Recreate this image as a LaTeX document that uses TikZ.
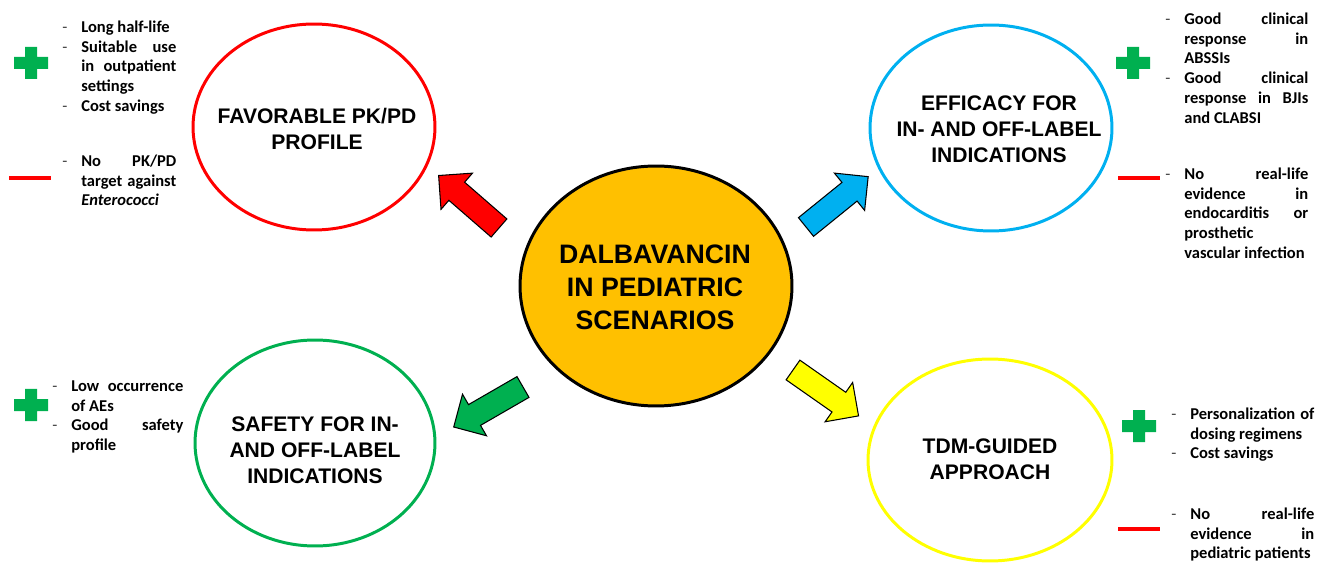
\documentclass[tikz,border=0pt]{standalone}
\usepackage{fontspec}
\setmainfont{Carlito}
\newfontfamily\headfont{Liberation Sans}
\usetikzlibrary{shapes.geometric}

\definecolor{redc}{HTML}{FF0000}
\definecolor{bluec}{HTML}{00B0F0}
\definecolor{greenc}{HTML}{00B050}
\definecolor{yellowc}{HTML}{FFFF00}
\definecolor{orangec}{HTML}{FFC000}

%block arrow: tail point, angle, fill colour
\newcommand{\blockarrow}[3]{%
  \draw[fill=#3, line width=0.6pt, line join=miter, shift={#1}, rotate=#2]
        (0,-12) -- (56,-12) -- (56,-24) -- (80,0) -- (56,24) -- (56,12)
        -- (0,12) -- cycle;}
%plus and minus marks
\newcommand{\plussign}[1]{%
  \fill[greenc, shift={#1}] (-17,-6) rectangle (17,6) (-6,-16) rectangle (6,16);}
\newcommand{\minussign}[1]{%
  \fill[redc, shift={#1}] (-21,-2) rectangle (21,2);}
%list entry with a dash in front
\newcommand{\entry}[1]{\par\hyphenpenalty10000\exhyphenpenalty10000
  \noindent\llap{\mdseries\color{black!75}-\hspace{0.28cm}}#1}

\begin{document}
\begin{tikzpicture}[x=0.02cm, y=-0.02cm,
    bubble/.style={draw, ellipse, line width=1.7pt, inner sep=0pt,
      minimum width=4.84cm, minimum height=4.12cm},
    bubbletext/.style={align=center, inner sep=0pt,
      font=\headfont\bfseries\fontsize{12}{14.7}\selectfont},
    sidelist/.style={anchor=north west, inner sep=0pt, align=justify,
      font=\bfseries\fontsize{9.4}{11.3}\selectfont}]
  \useasboundingbox (0,0) rectangle (1317,563);

  %centre
  \node[bubble, fill=orangec, minimum width=5.44cm, minimum height=4.8cm]
        (core) at (656,286) {};
  \node[bubbletext, font=\headfont\bfseries\fontsize{15.2}{18.7}\selectfont]
        (coretext) at (655,287) {DALBAVANCIN\\IN PEDIATRIC\\SCENARIOS};

  %four topics
  \node[bubble, draw=redc] (pkpd) at (314,127) {};
  \node[bubbletext] (pkpdtext) at (317,129) {FAVORABLE PK/PD\\PROFILE};
  \node[bubble, draw=bluec] (efficacy) at (991,128) {};
  \node[bubbletext] (efficacytext) at (999,129)
        {EFFICACY FOR\\IN- AND OFF-LABEL\\INDICATIONS};
  \node[bubble, draw=greenc, minimum width=4.8cm] (safety) at (315,443) {};
  \node[bubbletext] (safetytext) at (315,450)
        {SAFETY FOR IN-\\AND OFF-LABEL\\INDICATIONS};
  \node[bubble, draw=yellowc, minimum width=4.88cm, minimum height=4.04cm]
        (tdm) at (990,460) {};
  \node[bubbletext] (tdmtext) at (990,459) {TDM-GUIDED\\APPROACH};

  %arrows
  \blockarrow{(499,228)}{139}{redc}
  \blockarrow{(806,227)}{39}{bluec}
  \blockarrow{(523,387)}{210}{greenc}
  \blockarrow{(793,370)}{-35}{yellowc}

  %pros and cons
  \plussign{(31,63)}
  \minussign{(30,178)}
  \node[sidelist, text width=1.9cm] (pkpdpro) at (81,12)
        {\entry{Long half-life}
         \entry{Suitable use\linebreak in outpatient\linebreak settings}
         \entry{Cost savings}};
  \node[sidelist, text width=1.9cm] (pkpdcon) at (81,146)
        {\entry{No PK/PD\linebreak target against\linebreak
         \textit{Enterococci}}};

  \plussign{(1133,63)}
  \minussign{(1139,178)}
  \node[sidelist, text width=2.48cm] (efficacypro) at (1184,4)
        {\entry{Good clinical\linebreak response in\linebreak ABSSIs}
         \entry{Good clinical\linebreak response in BJIs\linebreak and CLABSI}};
  \node[sidelist, text width=2.48cm] (efficacycon) at (1184,159)
        {\entry{No real-life\linebreak evidence in\linebreak endocarditis
         or\linebreak prosthetic\newline vascular infection}};

  \plussign{(31,405)}
  \node[sidelist, text width=2.24cm] (safetypro) at (71,371)
        {\entry{Low occurrence\linebreak of AEs}
         \entry{Good safety\linebreak profile}};

  \plussign{(1139,426)}
  \minussign{(1139,529)}
  \node[sidelist, text width=2.48cm] (tdmpro) at (1190,399)
        {\entry{Personalization of\linebreak dosing regimens}
         \entry{Cost savings}};
  \node[sidelist, text width=2.48cm] (tdmcon) at (1190,499)
        {\entry{No real-life\linebreak evidence in\linebreak pediatric patients}};
\end{tikzpicture}
\end{document}
